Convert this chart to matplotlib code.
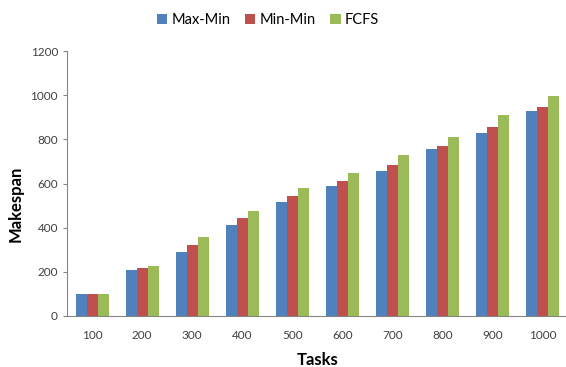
import numpy as np
import matplotlib.pyplot as plt

plt.rcParams['font.family'] = ['Lato', 'DejaVu Sans']

tasks = ['100', '200', '300', '400', '500', '600', '700', '800', '900', '1000']
max_min = [98, 208, 288, 412, 515, 588, 658, 758, 830, 928]
min_min = [98, 218, 323, 442, 545, 612, 683, 772, 858, 948]
fcfs = [98, 228, 358, 475, 578, 648, 728, 812, 912, 995]

series = [('Max-Min', max_min, '#4F81BD'),
          ('Min-Min', min_min, '#C0504D'),
          ('FCFS', fcfs, '#9BBB59')]

fig = plt.figure(figsize=(5.66, 3.67), dpi=100)
ax = fig.add_axes([67 / 566, 1 - 316 / 367, 501 / 566, 265 / 367])

x = np.arange(len(tasks))
w = 0.22
for i, (name, vals, col) in enumerate(series):
    ax.bar(x + (i - 1) * w, vals, w, color=col, label=name)

ax.set_xlim(-0.5, len(tasks) - 0.5)
ax.set_ylim(0, 1200)
ax.set_yticks(range(0, 1201, 200))
ax.set_xticks(x)
ax.set_xticklabels(tasks)

for s in ['top', 'right']:
    ax.spines[s].set_visible(False)
for s in ['left', 'bottom']:
    ax.spines[s].set_color('#868686')
ax.tick_params(axis='y', length=3, color='#868686', labelsize=8.5, labelcolor='#404040')
ax.tick_params(axis='x', length=0, pad=10, labelsize=8.5, labelcolor='#404040')

ax.set_xlabel('Tasks', fontsize=12, fontweight='bold', labelpad=8)
fig.text(16 / 566, 1 - 204 / 367, 'Makespan', rotation=90, fontsize=12,
         fontweight='bold', ha='center', va='center')

fig.legend(loc='upper center', bbox_to_anchor=(268 / 566, 1.0), ncol=3, frameon=False,
           fontsize=10.5, handlelength=0.7, handleheight=0.7, handletextpad=0.3,
           columnspacing=1.0)

fig.savefig('out.png', dpi=100)
